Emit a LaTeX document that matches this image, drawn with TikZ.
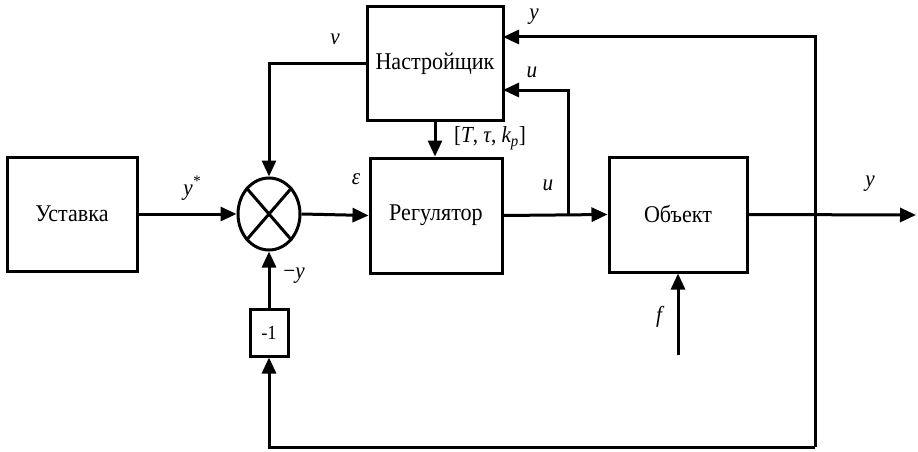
\documentclass[tikz,border=0pt]{standalone}
\usepackage{fontspec}
\setmainfont{Liberation Serif}[FakeStretch=0.92]
\usetikzlibrary{arrows.meta,shapes.geometric}
\begin{document}
\begin{tikzpicture}[x=1pt,y=-1pt,
  line width=3pt,
  tip/.style={-{Triangle[length=16pt,width=14pt]}},
  blk/.style={draw,rectangle,line width=3pt,inner sep=0pt,font=\fontsize{24}{26}\selectfont},
  lbl/.style={font=\fontsize{23}{25}\selectfont\itshape,inner sep=0pt}]
\useasboundingbox (0,0) rectangle (918,452);
\node[blk,minimum width=130pt,minimum height=114pt] (ust) at (72,214) {Уставка};
\node[draw,ellipse,line width=3pt,minimum width=62pt,minimum height=72pt,inner sep=0pt] (sum) at (269,214) {};
\draw (sum.north east) -- (sum.south west) (sum.north west) -- (sum.south east);
\node[blk,minimum width=136pt,minimum height=113pt] (nas) at (435,63.5) {Настройщик};
\node[blk,minimum width=132pt,minimum height=115pt] (reg) at (436,215.5) {Регулятор};
\node[blk,minimum width=138pt,minimum height=115pt] (obj) at (678,214.5) {Объект};
\node[blk,minimum width=38pt,minimum height=47pt,font=\fontsize{20}{22}\selectfont] (neg) at (269,332.5) {-1};
\coordinate (yout) at (916,215);
\coordinate (rtop) at (815,37);
\coordinate (rbot) at (815,447);
\coordinate (lbot) at (269,447);
\coordinate (branch) at (568,215);
\coordinate (uin) at (503,90);
\coordinate (yin) at (503,37);
\coordinate (ftail) at (678,355);
\draw[tip] (ust.east) -- (sum.west);
\draw[tip] (sum.east) -- (reg.west);
\draw[tip] (reg.east) -- (obj.west);
\draw[tip] (obj.east) -- (yout);
\draw[tip] (branch) |- (uin);
\draw[tip] (rbot) -- (rtop) -- (yin);
\draw[tip] (rbot) -- (lbot) -- (neg.south);
\draw[tip] (neg.north) -- (sum.south);
\draw[tip] (nas.west) -| (sum.north);
\draw[tip] (nas.south) -- (nas.south |- reg.north);
\draw[tip] (ftail) -- (obj.south);
\node[lbl] (lys) at (192,188) {y\textsuperscript{*}};
\node[lbl] (leps) at (356,179) {ε};
\node[lbl] (lu1) at (548,185) {u};
\node[lbl] (ly1) at (870,184) {y};
\node[lbl] (ly2) at (534,17) {y};
\node[lbl] (lu2) at (532,72) {u};
\node[lbl] (lv) at (335,39) {v};
\node[lbl] (lpar) at (490,138) {\upshape[\itshape T\upshape, \itshape τ\upshape, \itshape k\textsubscript{p}\upshape]};
\node[lbl] (lmy) at (294,276) {\upshape −\itshape y};
\node[lbl] (lf) at (659,317) {f};
\end{tikzpicture}
\end{document}
